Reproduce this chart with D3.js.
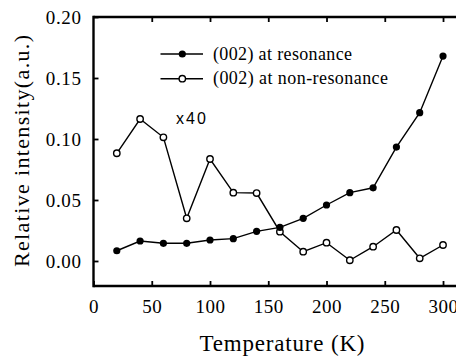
<!DOCTYPE html>
<html><head><meta charset="utf-8">
<script src="https://cdn.jsdelivr.net/npm/d3@7"></script>
<style>body{margin:0;background:#fff}svg{display:block}</style>
</head><body>
<svg id="c" width="456" height="357"></svg>
<script>
const temps = [20,40,60,80,100,120,140,160,180,200,220,240,260,280,300];
const resonance = [0.0084,0.0164,0.0145,0.0145,0.0172,0.0183,0.0243,0.0276,0.035,0.0459,0.056,0.060,0.0934,0.1216,0.168];
const nonResonance = [0.0883,0.1164,0.1014,0.035,0.0836,0.056,0.0557,0.024,0.0076,0.015,0.0006,0.0117,0.0254,0.0022,0.0131];
const xTicks = [0,50,100,150,200,250,300];
const yTicks = [0.00,0.05,0.10,0.15,0.20];
const seriesNames = ["(002) at resonance","(002) at non-resonance"];
const xTitle = "Temperature (K)";
const yTitle = "Relative intensity(a.u.)";
const note = "x40";

const svg = d3.select("#c");
const x = d3.scaleLinear().domain([0,312]).range([93.5,457]);
const y = d3.scaleLinear().domain([-0.0205,0.2]).range([286,17]);
const serif = "Times New Roman";

// frame
svg.append("line").attr("x1",x(0)).attr("x2",x(312)).attr("y1",y(0.2)).attr("y2",y(0.2)).attr("stroke","#000").attr("stroke-width",2.4);
svg.append("line").attr("x1",x(0)).attr("x2",x(312)).attr("y1",y(-0.0205)).attr("y2",y(-0.0205)).attr("stroke","#000").attr("stroke-width",2.4);
svg.append("line").attr("x1",x(0)).attr("x2",x(0)).attr("y1",y(0.2)-1.2).attr("y2",y(-0.0205)+1.2).attr("stroke","#000").attr("stroke-width",2.4);

// bottom axis
const xb = svg.append("g").attr("transform",`translate(0,${y(-0.0205)})`)
  .call(d3.axisBottom(x).tickValues(xTicks).tickSizeInner(-5).tickSizeOuter(0).tickPadding(14));
xb.select(".domain").remove();
xb.selectAll(".tick line").attr("stroke-width",1.8);
xb.selectAll(".tick text").style("font-family",serif).style("font-size","19px").style("letter-spacing","0.5px").attr("fill","#000");
// top ticks
const xt = svg.append("g").attr("transform",`translate(0,${y(0.2)})`)
  .call(d3.axisTop(x).tickValues(xTicks.filter(d=>d>0)).tickSizeInner(-5).tickSizeOuter(0).tickFormat(""));
xt.select(".domain").remove();
xt.selectAll(".tick line").attr("stroke-width",1.8);

// left axis
const yl = svg.append("g").attr("transform",`translate(${x(0)},0)`)
  .call(d3.axisLeft(y).tickValues(yTicks).tickSizeInner(-5).tickSizeOuter(0).tickPadding(12).tickFormat(d3.format(".2f")));
yl.select(".domain").remove();
yl.selectAll(".tick line").attr("stroke-width",1.8);
yl.selectAll(".tick text").style("font-family",serif).style("font-size","19px").style("letter-spacing","0.6px").attr("fill","#000");

// lines
const line = d3.line().x((d,i)=>x(temps[i])).y(d=>y(d));
svg.append("path").datum(nonResonance).attr("d",line).attr("fill","none").attr("stroke","#000").attr("stroke-width",1.4);
svg.append("path").datum(resonance).attr("d",line).attr("fill","none").attr("stroke","#000").attr("stroke-width",1.4);
svg.selectAll("circle.nr").data(nonResonance).enter().append("circle").attr("class","nr")
  .attr("cx",(d,i)=>x(temps[i])).attr("cy",d=>y(d)).attr("r",3.2).attr("fill","#fff").attr("stroke","#000").attr("stroke-width",1.4);
svg.selectAll("circle.r").data(resonance).enter().append("circle").attr("class","r")
  .attr("cx",(d,i)=>x(temps[i])).attr("cy",d=>y(d)).attr("r",3.6).attr("fill","#000");

// legend
const legWidths = [139, 175];
const leg = svg.append("g");
seriesNames.forEach((n,i)=>{
  const yy = 54 + i*24.7;
  leg.append("line").attr("x1",160.5).attr("x2",203).attr("y1",yy).attr("y2",yy).attr("stroke","#000").attr("stroke-width",1.4);
  leg.append("circle").attr("cx",182.3).attr("cy",yy).attr("r",i===0?3.6:3.2)
    .attr("fill",i===0?"#000":"#fff").attr("stroke","#000").attr("stroke-width",i===0?0:1.4);
  leg.append("text").attr("x",213).attr("y",yy+5.5).style("font-family",serif).style("font-size","18px")
    .attr("textLength",legWidths[i]).attr("lengthAdjust","spacing").attr("fill","#000").text(n);
});

// note
svg.append("text").attr("x",176).attr("y",124).style("font-family","Arial")
  .style("font-size","16px").attr("textLength",30).attr("lengthAdjust","spacing").attr("fill","#000").text(note);

// titles
svg.append("text").attr("x",199.5).attr("y",351).style("font-family",serif)
  .style("font-size","23px").attr("textLength",165).attr("lengthAdjust","spacing").attr("fill","#000").text(xTitle);
svg.append("text").attr("transform","translate(28.5,267) rotate(-90)").style("font-family",serif)
  .style("font-size","22px").attr("textLength",232).attr("lengthAdjust","spacing").attr("fill","#000").text(yTitle);
</script>
</body></html>
